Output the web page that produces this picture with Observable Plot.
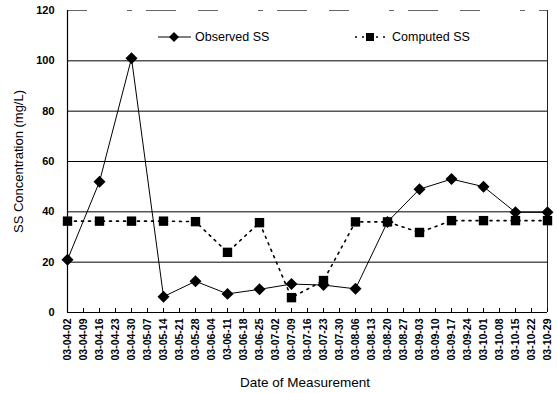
<!DOCTYPE html>
<html>
<head>
<meta charset="utf-8">
<script src="https://cdn.jsdelivr.net/npm/d3@7"></script>
<script src="https://cdn.jsdelivr.net/npm/@observablehq/plot@0.6"></script>
<style>
  html, body { margin: 0; padding: 0; background: #fff; }
  #chart { position: relative; width: 557px; height: 393px; }
  svg { font-family: Arial, "Liberation Sans", sans-serif; }
</style>
</head>
<body>
<div id="chart"></div>
<script>
// Weekly measurement-date tick labels (yy-mm-dd)
const dateTicks = [
  "03-04-02","03-04-09","03-04-16","03-04-23","03-04-30","03-05-07","03-05-14",
  "03-05-21","03-05-28","03-06-04","03-06-11","03-06-18","03-06-25","03-07-02",
  "03-07-09","03-07-16","03-07-23","03-07-30","03-08-06","03-08-13","03-08-20",
  "03-08-27","03-09-03","03-09-10","03-09-17","03-09-24","03-10-01","03-10-08",
  "03-10-15","03-10-22","03-10-29"
];

// Sampling dates (every two weeks)
const sampleDates = [
  "03-04-02","03-04-16","03-04-30","03-05-14","03-05-28","03-06-11","03-06-25",
  "03-07-09","03-07-23","03-08-06","03-08-20","03-09-03","03-09-17","03-10-01",
  "03-10-15","03-10-29"
];

// SS concentration (mg/L)
const observedSS = [21, 52, 101, 6.3, 12.4, 7.4, 9.2, 11.3, 10.9, 9.4, 36, 49, 53, 50, 39.8, 39.8];
const computedSS = [36.3, 36.3, 36.3, 36.3, 36.1, 23.9, 35.7, 5.9, 12.7, 36, 36, 31.8, 36.5, 36.5, 36.5, 36.5];

const yTicks = [0, 20, 40, 60, 80, 100, 120];
const gridTicks = [20, 40, 60, 80, 100];

const observed = sampleDates.map((d, i) => ({date: d, value: observedSS[i]}));
const computed = sampleDates.map((d, i) => ({date: d, value: computedSS[i]}));

const plot = Plot.plot({
  width: 557,
  height: 393,
  marginLeft: 67,
  marginRight: 10,
  marginTop: 10,
  marginBottom: 81,
  style: {fontFamily: "Arial, 'Liberation Sans', sans-serif", color: "#000", background: "#fff"},
  x: {type: "point", domain: dateTicks, padding: 0},
  y: {domain: [0, 120]},
  marks: [
    Plot.ruleY(gridTicks, {stroke: "#000", strokeWidth: 1}),
    Plot.ruleY([120], {stroke: "#666", strokeWidth: 1, strokeDasharray: "20,40,5,14,30,22"}),
    Plot.ruleX([dateTicks[dateTicks.length - 1]], {stroke: "#222", strokeWidth: 1}),
    Plot.ruleX([dateTicks[0]], {stroke: "#000", strokeWidth: 1.2}),
    Plot.ruleY([0], {stroke: "#000", strokeWidth: 1.2}),
    Plot.axisY({
      ticks: yTicks, tickSize: 0, tickPadding: 13,
      fontSize: 11, fontWeight: "bold", label: null
    }),
    Plot.text(["SS Concentration (mg/L)"], {
      frameAnchor: "left", textAnchor: "middle", rotate: -90, dx: -49, fontSize: 13, fill: "#000"
    }),
    Plot.axisX({
      ticks: dateTicks, tickSize: 0, tickPadding: 6, tickRotate: -90,
      fontSize: 10.5, fontWeight: "bold", label: null
    }),
    // short inward tick marks on the date axis
    Plot.axisX({ticks: dateTicks, tickSize: 4, text: null, label: null, dy: -4}),
    Plot.line(computed, {x: "date", y: "value", stroke: "#000", strokeWidth: 1.6, strokeDasharray: "2,5"}),
    Plot.dot(computed, {x: "date", y: "value", symbol: "square", r: 5.3, fill: "#000"}),
    Plot.line(observed, {x: "date", y: "value", stroke: "#000", strokeWidth: 1}),
    Plot.dot(observed, {x: "date", y: "value", symbol: "diamond2", r: 5.4, fill: "#000"})
  ]
});

document.getElementById("chart").appendChild(plot);

// Legend and x-axis title, drawn in the SVG's own pixel space
const svg = d3.select(plot);
const lg = svg.append("g")
  .attr("font-family", "Arial, 'Liberation Sans', sans-serif")
  .attr("font-size", 12.5)
  .attr("text-anchor", "start");
const legendY = 37;
// Observed SS entry
lg.append("line").attr("x1", 158).attr("x2", 191).attr("y1", legendY).attr("y2", legendY)
  .attr("stroke", "#000").attr("stroke-width", 1);
lg.append("path").attr("d", d3.symbol(d3.symbolSquare, 50)())
  .attr("transform", `translate(174,${legendY}) rotate(45)`).attr("fill", "#000");
lg.append("text").attr("x", 195).attr("y", legendY).attr("dy", "0.35em").text("Observed SS");
// Computed SS entry
lg.append("line").attr("x1", 355).attr("x2", 386).attr("y1", legendY).attr("y2", legendY)
  .attr("stroke", "#000").attr("stroke-width", 1.6).attr("stroke-dasharray", "2,5");
lg.append("rect").attr("x", 366).attr("y", legendY - 4).attr("width", 8).attr("height", 8).attr("fill", "#000");
lg.append("text").attr("x", 392).attr("y", legendY).attr("dy", "0.35em").text("Computed SS");
// X-axis title
svg.append("text").attr("x", 305).attr("y", 382).attr("dy", "0.35em").attr("text-anchor", "middle")
  .attr("font-family", "Arial, 'Liberation Sans', sans-serif").attr("font-size", 13.5)
  .text("Date of Measurement");
</script>
</body>
</html>
